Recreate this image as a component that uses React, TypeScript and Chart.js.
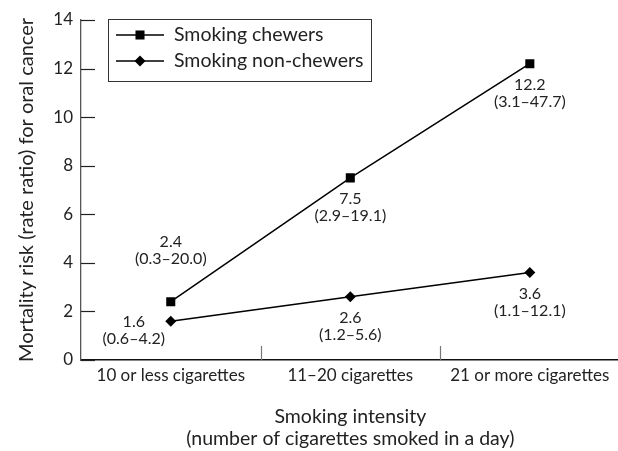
import React, { useEffect, useRef } from "react";
import { Chart, registerables } from "chart.js";

Chart.register(...registerables);

const categories = ["10 or less cigarettes", "11–20 cigarettes", "21 or more cigarettes"];
const chewersValues = [2.4, 7.5, 12.2];
const nonChewersValues = [1.6, 2.6, 3.6];
const chewersCI = ["(0.3–20.0)", "(2.9–19.1)", "(3.1–47.7)"];
const nonChewersCI = ["(0.6–4.2)", "(1.2–5.6)", "(1.1–12.1)"];
const chewersLabelPlacement = ["above", "below", "below"];
const nonChewersLabelPlacement = ["left", "below", "below"];
const seriesNames = ["Smoking chewers", "Smoking non-chewers"];
const yTitle = "Mortality risk (rate ratio) for oral cancer";
const xTitle = ["Smoking intensity", "(number of cigarettes smoked in a day)"];

const FONT = "Lato, 'DejaVu Sans', sans-serif";

function drawMarker(ctx: CanvasRenderingContext2D, style: string, x: number, y: number, r: number) {
  ctx.beginPath();
  if (style === "rect") {
    const s = Math.SQRT1_2 * r;
    ctx.rect(x - s, y - s, 2 * s, 2 * s);
  } else {
    ctx.moveTo(x, y - r);
    ctx.lineTo(x + r, y);
    ctx.lineTo(x, y + r);
    ctx.lineTo(x - r, y);
    ctx.closePath();
  }
  ctx.fill();
}

const decorPlugin = {
  id: "decor",
  afterDraw(chart: any) {
    const ctx: CanvasRenderingContext2D = chart.ctx;
    const xs = chart.scales.x;
    const ys = chart.scales.y;
    const area = chart.chartArea;
    ctx.save();
    // inner y ticks
    ctx.strokeStyle = "#222";
    ctx.lineWidth = 1.2;
    ys.ticks.forEach((t: any) => {
      const py = Math.round(ys.getPixelForValue(t.value)) + 0.5;
      ctx.beginPath();
      ctx.moveTo(area.left, py);
      ctx.lineTo(area.left + 14, py);
      ctx.stroke();
    });
    // x category separator ticks
    ctx.strokeStyle = "#777";
    for (let i = 1; i < categories.length; i++) {
      const px = Math.round((xs.getPixelForValue(i - 1) + xs.getPixelForValue(i)) / 2) + 0.5;
      ctx.beginPath();
      ctx.moveTo(px, area.bottom);
      ctx.lineTo(px, area.bottom - 14);
      ctx.stroke();
    }
    // data labels
    ctx.fillStyle = "#222";
    ctx.font = `16px ${FONT}`;
    ctx.textBaseline = "middle";
    ctx.textAlign = "center";
    const labelSets = [
      { vals: chewersValues, ci: chewersCI, place: chewersLabelPlacement },
      { vals: nonChewersValues, ci: nonChewersCI, place: nonChewersLabelPlacement },
    ];
    labelSets.forEach((set, di) => {
      const meta = chart.getDatasetMeta(di);
      meta.data.forEach((pt: any, i: number) => {
        const p = set.place[i];
        let cx = pt.x;
        let y1 = pt.y + 21;
        if (p === "above") {
          y1 = pt.y - 60;
        } else if (p === "left") {
          cx = pt.x - 37;
          y1 = pt.y + 1;
        }
        ctx.fillText(String(set.vals[i].toFixed(1)), cx, y1);
        ctx.fillText(set.ci[i], cx, y1 + 17);
      });
    });
    // legend
    ctx.strokeStyle = "#333";
    ctx.lineWidth = 1;
    ctx.strokeRect(108.5, 19.5, 263, 62);
    ctx.font = `19.5px ${FONT}`;
    ctx.textAlign = "left";
    chart.data.datasets.forEach((ds: any, i: number) => {
      const y = 35 + i * 26;
      ctx.strokeStyle = "#000";
      ctx.lineWidth = 1.5;
      ctx.beginPath();
      ctx.moveTo(116, y);
      ctx.lineTo(164, y);
      ctx.stroke();
      ctx.fillStyle = "#000";
      drawMarker(ctx, ds.pointStyle, 140, y, ds.pointRadius);
      ctx.fillStyle = "#222";
      ctx.fillText(ds.label, 174, y);
    });
    ctx.restore();
  },
};

export default function App() {
  const ref = useRef<HTMLCanvasElement>(null);
  useEffect(() => {
    document.body.style.margin = "0";
    const chart = new Chart(ref.current!, {
      type: "line",
      data: {
        labels: categories,
        datasets: [
          {
            label: seriesNames[0],
            data: chewersValues,
            borderColor: "#000",
            backgroundColor: "#000",
            borderWidth: 1.5,
            pointStyle: "rect",
            pointRadius: 6.4,
            pointBorderWidth: 0,
          },
          {
            label: seriesNames[1],
            data: nonChewersValues,
            borderColor: "#000",
            backgroundColor: "#000",
            borderWidth: 1.5,
            pointStyle: "rectRot",
            pointRadius: 5.5,
            pointBorderWidth: 0,
          },
        ],
      },
      options: {
        responsive: false,
        animation: false,
        layout: { padding: { top: 20, right: 3.5, left: 0, bottom: 0 } },
        plugins: { legend: { display: false }, tooltip: { enabled: false } },
        scales: {
          x: {
            type: "category",
            offset: true,
            grid: { display: false, drawTicks: false },
            border: { display: true, color: "#111", width: 1.5 },
            ticks: { color: "#222", font: { family: FONT, size: 17 }, padding: 5, maxRotation: 0 },
            title: {
              display: true,
              text: xTitle,
              color: "#222",
              font: { family: FONT, size: 19.5, lineHeight: 1.128 },
              padding: { top: 0, bottom: 1 },
            },
            afterFit: (s: any) => {
              s.height = 91;
            },
          },
          y: {
            min: 0,
            max: 14,
            grid: { display: false, drawTicks: false },
            border: { display: true, color: "#555", width: 1.3 },
            ticks: { stepSize: 2, color: "#222", font: { family: FONT, size: 17 }, padding: 8 },
            title: {
              display: true,
              text: yTitle,
              color: "#222",
              font: { family: FONT, size: 20, lineHeight: 1.2 },
              padding: { top: 15, bottom: 0 },
            },
            afterFit: (s: any) => {
              s.width = 81;
            },
          },
        },
      },
      plugins: [decorPlugin],
    });
    return () => chart.destroy();
  }, []);
  return (
    <div style={{ position: "absolute", left: 0, top: 0, width: 618, height: 451, overflow: "hidden", background: "#fff" }}>
      <canvas ref={ref} width={626} height={451} style={{ width: 626, height: 451, display: "block" }} />
    </div>
  );
}
